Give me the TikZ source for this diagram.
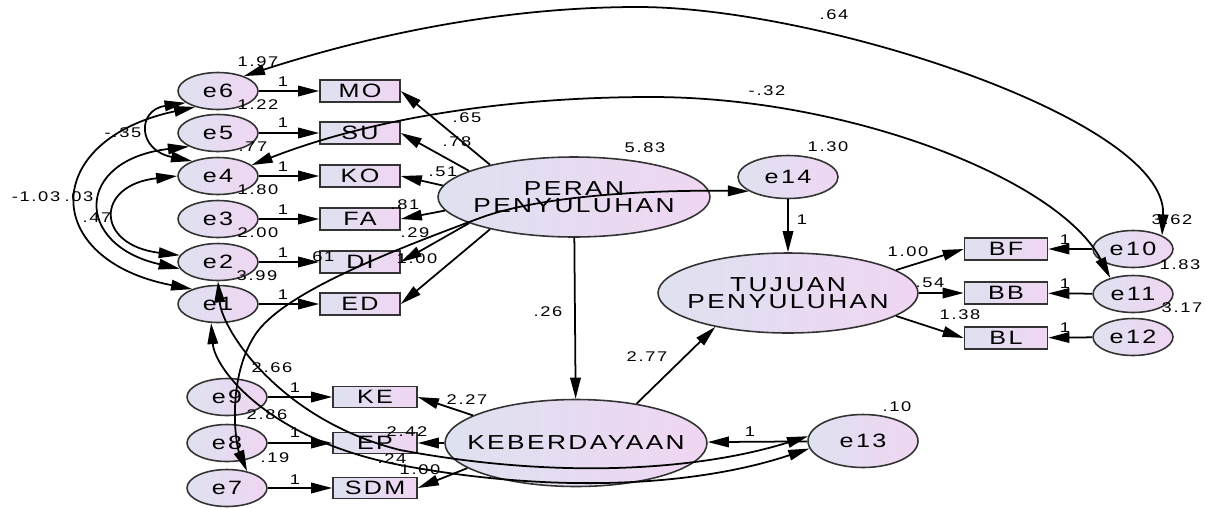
\documentclass[tikz,border=0pt]{standalone}
\usepackage{fontspec}
\usetikzlibrary{shapes.geometric,arrows.meta}
\newfontfamily\amos[FakeStretch=1.3,LetterSpace=12]{Liberation Sans}
\definecolor{ecl}{RGB}{222,225,240}
\definecolor{ecr}{RGB}{240,214,242}
\newcommand{\nodefont}{\amos\fontsize{11}{12}\selectfont}
\newcommand{\latfont}{\amos\fontsize{11.5}{10}\selectfont}
\newcommand{\lblfont}{\amos\fontsize{8}{9}\selectfont}
\tikzset{
  >={Triangle[length=12pt,width=6pt]},
}

\begin{document}
\begin{tikzpicture}[
  x=0.02cm, y=-0.02cm,
  errnode/.style={ellipse, draw=black!80, line width=0.9pt, left color=ecl, right color=ecr,
    minimum width=1.6cm, minimum height=0.74cm, inner sep=0pt, font=\nodefont},
  obsbox/.style={rectangle, draw=black!80, line width=0.9pt, left color=ecl, right color=ecr,
    minimum width=1.6cm, minimum height=0.44cm, inner sep=0pt, font=\nodefont},
  latnode/.style={ellipse, draw=black!80, line width=0.9pt, left color=ecl, right color=ecr, inner sep=0pt},
  latname/.style={font=\latfont, align=center},
  reg/.style={->, line width=1pt},
  cov/.style={<->, line width=1pt},
  lbl/.style={font=\lblfont, inner sep=0pt}
]
\useasboundingbox (0,0) rectangle (1207,508);

% error terms and indicators, PERAN PENYULUHAN
\node[errnode] (e6) at (218,91) {e6};
\node[errnode] (e5) at (218,133) {e5};
\node[errnode] (e4) at (218,176) {e4};
\node[errnode] (e3) at (218,219) {e3};
\node[errnode] (e2) at (218,262) {e2};
\node[errnode] (e1) at (218,304) {e1};
\node[obsbox] (MO) at (360,91) {MO};
\node[obsbox] (SU) at (360,133) {SU};
\node[obsbox] (KO) at (360,176) {KO};
\node[obsbox] (FA) at (360,219) {FA};
\node[obsbox] (DI) at (360,262) {DI};
\node[obsbox] (ED) at (360,304) {ED};

% KEBERDAYAAN indicators
\node[errnode] (e9) at (227,397) {e9};
\node[errnode] (e8) at (227,443) {e8};
\node[errnode] (e7) at (227,488) {e7};
\node[obsbox, minimum width=1.68cm, minimum height=0.42cm] (KE) at (375,397) {KE};
\node[obsbox, minimum width=1.68cm, minimum height=0.42cm] (EP) at (375,443) {EP};
\node[obsbox, minimum width=1.68cm, minimum height=0.42cm] (SDM) at (375,488) {SDM};

% latent variables
\node[latnode, minimum width=5.44cm, minimum height=1.6cm,
  label={[latname]center:PERAN\\PENYULUHAN}] (per) at (574,197) {};
\node[latnode, minimum width=5.2cm, minimum height=1.6cm,
  label={[latname]center:TUJUAN\\PENYULUHAN}] (tuj) at (788,293) {};
\node[latnode, minimum width=5.24cm, minimum height=1.74cm,
  label={[latname]center:KEBERDAYAAN}] (keb) at (576,443) {};
\node[errnode, minimum width=2.0cm, minimum height=0.86cm] (e14) at (788,177) {e14};
\node[errnode, minimum width=2.2cm, minimum height=1.06cm] (e13) at (863,441) {e13};

% TUJUAN PENYULUHAN indicators
\node[obsbox, minimum width=1.66cm] (BF) at (1006,249) {BF};
\node[obsbox, minimum width=1.66cm] (BB) at (1006,293) {BB};
\node[obsbox, minimum width=1.66cm] (BL) at (1006,338) {BL};
\node[errnode] (e10) at (1133,249) {e10};
\node[errnode] (e11) at (1133,294) {e11};
\node[errnode] (e12) at (1133,337) {e12};

% regression paths
\path[reg]
  (e6) edge (MO)
  (e5) edge (SU)
  (e4) edge (KO)
  (e3) edge (FA)
  (e2) edge (DI)
  (e1) edge (ED)
  (e9) edge (KE)
  (e8) edge (EP)
  (e7) edge (SDM)
  (e10) edge (BF)
  (e11) edge (BB)
  (e12) edge (BL)
  (per.159) edge (MO.east)
  (per.166) edge (SU.east)
  (per.175) edge (KO.east)
  (per.186) edge (FA.east)
  (per.194) edge (DI.east)
  (per.201) edge (ED.east)
  (keb.165) edge (KE.east)
  (keb) edge (EP)
  (keb.193) edge (SDM.east)
  (tuj.12) edge (BF.west)
  (tuj) edge (BB)
  (tuj.348) edge (BL.west)
  (per) edge (keb)
  (keb.33) edge (tuj.205)
  (e14) edge (tuj)
  (e13) edge (keb);

% covariances
\draw[cov] (e6.30) .. controls (340,45) and (480,7) .. (638,7)
  .. controls (820,7) and (1168,120) .. (e10.25);
\draw[cov] (e4.18) .. controls (380,115) and (520,97) .. (651,97)
  .. controls (850,97) and (1060,180) .. (e11.145);
\draw[cov] (e6.215) .. controls (40,140) and (40,260) .. (e1.150);
\draw[cov] (e5.205) .. controls (74,160) and (74,245) .. (e2.190);
\draw[cov] (e4.180) .. controls (95,185) and (95,245) .. (e2.170);
\draw[cov] (e6.200) .. controls (137,110) and (137,150) .. (e4.150);
\draw[cov] (e7.40) .. controls (236,445) and (226,380) .. (255,335)
  .. controls (281,295) and (380,255) .. (480,218)
  .. controls (550,192) and (680,190) .. (e14.200);
\draw[cov] (e2.south) .. controls (222,330) and (280,420) .. (400,450)
  .. controls (560,480) and (700,470) .. (e13.175);
\draw[cov] (e1.250) .. controls (215,370) and (270,440) .. (400,465)
  .. controls (560,495) and (700,485) .. (e13.188);

% variances
\node[lbl] (v6) at (258,62) {1.97};
\node[lbl] (v5) at (258,105) {1.22};
\node[lbl] (v4) at (253,147) {.77};
\node[lbl] (v3) at (258,190) {1.80};
\node[lbl] (v2) at (258,233) {2.00};
\node[lbl] (v1) at (257,276) {3.99};
\node[lbl] (v9) at (272,368) {2.66};
\node[lbl] (v8) at (267,415) {2.86};
\node[lbl] (v7) at (275,458) {.19};
\node[lbl] (vper) at (645,148) {5.83};
\node[lbl] (v14) at (828,147) {1.30};
\node[lbl] (v10) at (1172,220) {3.62};
\node[lbl] (v11) at (1180,265) {1.83};
\node[lbl] (v12) at (1182,308) {3.17};
\node[lbl] (v13) at (897,407) {.10};

% covariance labels
\node[lbl] (c610) at (834,15) {.64};
\node[lbl] (c411) at (767,91) {-.32};
\node[lbl] (c64) at (123,133) {-.35};
\node[lbl] (c61) at (36,197) {-1.03};
\node[lbl] (c52) at (79,197) {.03};
\node[lbl] (c42) at (97,218) {.47};
\node[lbl] (c714) at (415,233) {.29};
\node[lbl] (c213) at (320,257) {.61};
\node[lbl] (c113) at (392,459) {.24};

% weights
\node[lbl] (wmo) at (467,118) {.65};
\node[lbl] (wsu) at (457,142) {.78};
\node[lbl] (wko) at (443,172) {.51};
\node[lbl] (wfa) at (405,205) {.81};
\node[lbl] (wed) at (417,259) {1.00};
\node[lbl] (wke) at (467,400) {2.27};
\node[lbl] (wep) at (407,432) {2.42};
\node[lbl] (wsdm) at (420,470) {1.00};
\node[lbl] (wkeb) at (548,312) {.26};
\node[lbl] (wtuj) at (647,357) {2.77};
\node[lbl] (wbf) at (908,252) {1.00};
\node[lbl] (wbb) at (930,283) {.54};
\node[lbl] (wbl) at (960,315) {1.38};

% fixed paths
\node[lbl] (o6) at (283,82) {1};
\node[lbl] (o5) at (283,123) {1};
\node[lbl] (o4) at (283,167) {1};
\node[lbl] (o3) at (283,210) {1};
\node[lbl] (o2) at (283,253) {1};
\node[lbl] (o1) at (283,295) {1};
\node[lbl] (o9) at (295,388) {1};
\node[lbl] (o8) at (295,433) {1};
\node[lbl] (o7) at (295,480) {1};
\node[lbl] (o10) at (1065,240) {1};
\node[lbl] (o11) at (1065,284) {1};
\node[lbl] (o12) at (1065,328) {1};
\node[lbl] (o14) at (802,220) {1};
\node[lbl] (o13) at (750,432) {1};

\end{tikzpicture}
\end{document}
